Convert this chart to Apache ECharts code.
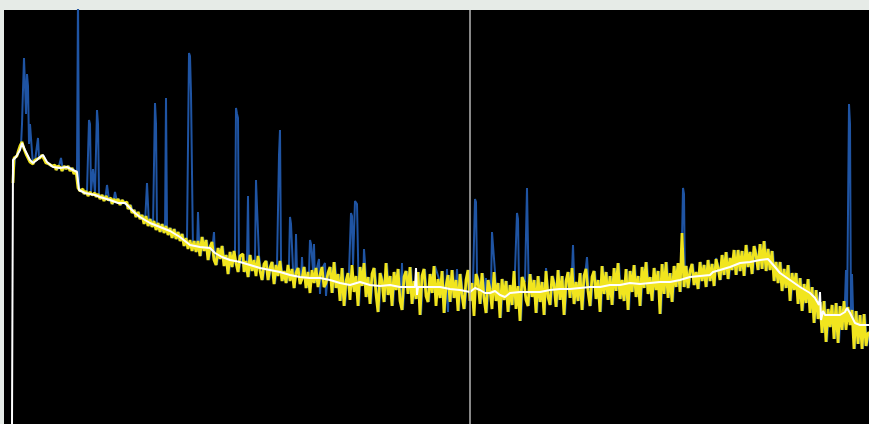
<!DOCTYPE html>
<html>
<head>
<meta charset="utf-8">
<script src="https://cdn.jsdelivr.net/npm/echarts@6/dist/echarts.min.js"></script>
<style>
  html, body { margin: 0; padding: 0; background: #e6ebe7; }
  #chart { width: 869px; height: 424px; }
</style>
</head>
<body>
<div id="chart"></div>
<script>
// Spectrum sampled on a regular channel grid
const firstChannel = 13;
const channelStep = 2;

// Despiked signal (yellow), one value per channel
const despiked = [
  // channels 13-197
  241,266,268,272,278,282,275,270,266,262,260,263,265,266,268,269,265,261,260,258,
  257,259,254,258,256,253,258,255,258,253,256,250,253,236,233,235,230,233,228,232,
  229,231,227,230,225,229,223,228,224,226,220,225,222,225,219,224,221,222,215,219,
  211,214,207,212,205,209,200,208,198,205,197,203,194,201,192,200,191,198,189,196,
  186,195,185,192,183,190,178,186,175,184,173,183,172,
  // channels 199-329
  183,168,187,173,184,164,177,182,164,159,176,165,178,158,169,150,172,157,173,161,
  152,168,170,152,163,147,169,153,164,148,168,153,144,160,163,144,156,162,140,159,
  148,163,143,153,141,159,143,155,136,151,156,140,145,157,136,152,131,154,141,156,
  137,149,157,137,141,151,
  // channels 331-679
  157,131,162,136,150,123,156,118,143,151,124,159,132,148,118,157,138,161,127,147,
  120,150,156,130,112,151,143,122,161,129,148,118,152,134,155,123,114,147,153,130,
  157,120,143,125,152,109,148,155,128,122,150,131,158,118,145,126,153,111,138,149,
  122,154,126,144,113,150,129,115,144,154,123,141,108,150,143,120,151,126,111,144,
  135,115,152,123,141,106,145,124,143,112,139,119,153,115,138,103,147,142,124,118,
  150,127,144,111,148,122,142,109,153,127,119,148,140,117,154,124,148,109,143,152,
  126,156,120,142,123,151,114,148,155,133,118,147,153,125,144,112,158,130,152,124,
  148,119,156,133,161,125,144,123,155,114,153,132,159,127,148,118,157,136,162,130,
  147,123,156,134,153,110,160,130,162,126,151,122,158,137,161,
  // channels 681-869
  132,191,137,158,136,153,160,139,152,135,162,143,159,137,164,143,160,138,165,156,
  144,169,149,172,145,166,154,174,149,174,153,173,148,179,157,172,150,178,169,154,
  180,155,183,153,175,154,173,143,162,141,162,133,155,136,159,123,151,134,151,120,
  146,113,140,121,145,111,137,101,134,105,122,91,123,82,115,97,119,85,121,81,
  118,94,123,94,117,99,114,75,113,80,109,75,110,78,91
];

// Narrow spikes present only in the raw signal: [channel, intensity]
const spikes = [
  [22,300],[23,334],[24,366],[25,367],[26,310],[27,350],[28,338],[29,280],[30,300],[31,286],[32,272],
  [38,286],[61,266],[78,430],[89,304],[90,300],[93,255],[97,314],[98,300],
  [107,239],[115,232],[147,241],[155,321],[156,300],[166,326],
  [189,371],[190,368],[191,330],[198,212],[214,192],
  [236,316],[237,310],[238,306],[248,228],[256,244],[257,217],
  [279,269],[280,294],[290,207],[291,200],[296,190],[302,167],
  [310,184],[311,180],[314,180],[319,165],[320,130],[325,161],[326,128],
  [351,211],[352,208],[355,223],[356,222],[357,220],[364,175],
  [402,161],[437,157],[447,155],[448,112],[457,155],
  [475,225],[476,222],[486,146],[492,192],[493,193],
  [517,211],[518,205],[527,236],[528,234],[546,156],[547,154],
  [573,179],[587,167],[683,236],[684,230],[716,166],
  [846,154],[847,102],[849,320],[850,300],[852,150]
];

// Smoothed baseline (white): [channel, intensity]
const baseline = [
  [12,0],[13,264],[16,267],[20,274],[22,281],[25,274],[30,264],[33,261],[37,264],
  [40,267],[43,269],[47,262],[53,257],[60,256],[67,257],[73,254],[77,252],[79,234],
  [85,231],[95,229],[100,227],[110,224],[118,221],[125,221],[130,216],[135,211],
  [140,207],[145,204],[150,201],[160,197],[170,193],[180,187],[190,179],[200,177],
  [210,176],[215,171],[222,167],[230,164],[240,162],[250,159],[260,156],[270,154],
  [280,152],[290,149],[300,147],[310,146],[320,146],[330,144],[340,141],[350,139],
  [360,142],[370,139],[380,138],[390,139],[400,137],[410,137],[415,137],[416,156],
  [417,129],[418,137],[430,137],[440,137],[450,135],[460,134],[470,132],[475,136],
  [480,134],[485,131],[490,131],[495,133],[500,129],[505,127],[510,131],[520,132],
  [530,132],[540,132],[550,134],[560,135],[570,135],[580,136],[590,137],[600,137],
  [610,139],[620,139],[630,141],[640,140],[650,141],[660,142],[670,142],[680,144],
  [690,147],[700,148],[710,149],[713,152],[720,154],[730,157],[740,161],[750,162],
  [760,164],[768,165],[775,157],[780,151],[790,144],[800,137],[810,131],[815,126],
  [819,119],[820,132],[821,104],[823,113],[825,109],[830,109],[840,109],[845,112],
  [847,116],[850,111],[855,101],[860,99],[869,99]
];

// Cursor position on the channel axis
const cursorChannel = 470;

// Paired channel/intensity tables built from the arrays above
const despikedData = despiked.map((v, i) => [firstChannel + i * channelStep, v]);
const rawMap = new Map(despikedData.map(p => [p[0], p[1]]));
spikes.forEach(([c, v]) => rawMap.set(c, v));
const rawData = Array.from(rawMap.entries()).sort((a, b) => a[0] - b[0]);

const chart = echarts.init(document.getElementById('chart'), null, { renderer: 'canvas' });
chart.setOption({
  animation: false,
  backgroundColor: 'transparent',
  grid: {
    left: 4, right: 0, top: 10, bottom: 0,
    show: true, backgroundColor: '#000000', borderWidth: 0
  },
  xAxis: { type: 'value', min: 4, max: 869, show: false },
  yAxis: { type: 'value', min: 0, max: 414, show: false },
  series: [
    {
      name: 'raw', type: 'line', data: rawData, showSymbol: false,
      lineStyle: { color: '#1f54a3', width: 2 }, z: 2
    },
    {
      name: 'despiked', type: 'line', data: despikedData, showSymbol: false,
      step: 'middle',
      lineStyle: { color: '#f1e51e', width: 2.8 }, z: 3
    },
    {
      name: 'baseline', type: 'line', data: baseline, showSymbol: false,
      lineStyle: { color: '#ffffff', width: 2 }, z: 4,
      markLine: {
        silent: true, symbol: 'none', label: { show: false },
        lineStyle: { color: '#b4b4b4', width: 1.5, type: 'solid' },
        data: [{ xAxis: cursorChannel }]
      }
    }
  ]
});
</script>
</body>
</html>
